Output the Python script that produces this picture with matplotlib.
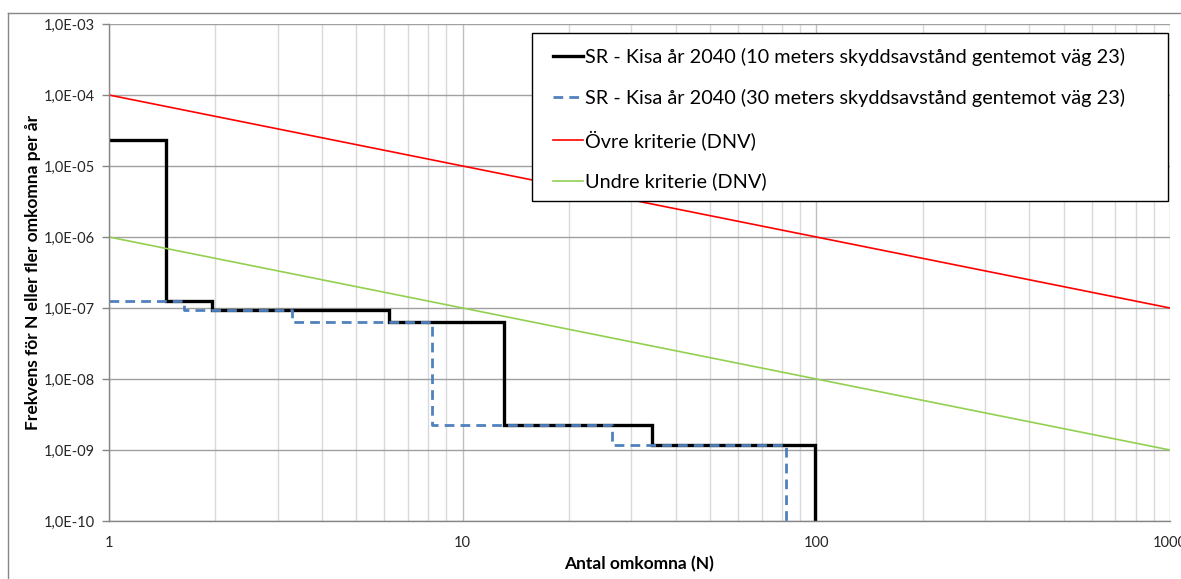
import matplotlib
matplotlib.use("Agg")
import matplotlib.pyplot as plt
from matplotlib.ticker import FixedLocator, NullFormatter, LogLocator
from matplotlib.lines import Line2D
from matplotlib.patches import Rectangle

plt.rcParams['font.family'] = ['Lato', 'DejaVu Sans']

# Data
black_N = [1, 1.45, 1.95, 6.2, 13.1, 34.4, 99]
black_F = [2.3e-5, 1.25e-7, 9.4e-8, 6.3e-8, 2.25e-9, 1.18e-9, 1e-11]
blue_N = [1, 1.63, 3.29, 8.2, 26.4, 82]
blue_F = [1.25e-7, 9.4e-8, 6.3e-8, 2.25e-9, 1.18e-9, 1e-11]
crit_N = [1, 1000]
upper_F = [1e-4, 1e-7]
lower_F = [1e-6, 1e-9]

labels = ["SR - Kisa år 2040 (10 meters skyddsavstånd gentemot väg 23)",
          "SR - Kisa år 2040 (30 meters skyddsavstånd gentemot väg 23)",
          "Övre kriterie (DNV)",
          "Undre kriterie (DNV)"]
ytick_vals = [1e-10, 1e-9, 1e-8, 1e-7, 1e-6, 1e-5, 1e-4, 1e-3]
ytick_labels = ["1,0E-10", "1,0E-09", "1,0E-08", "1,0E-07", "1,0E-06", "1,0E-05", "1,0E-04", "1,0E-03"]
xtick_vals = [1, 10, 100, 1000]
xtick_labels = ["1", "10", "100", "1000"]

W, H = 1181, 579
fig = plt.figure(figsize=(W / 100, H / 100), dpi=100)
ax = fig.add_axes([109 / W, 1 - 521 / H, (1170 - 109) / W, (521 - 24) / H])

ax.set_xscale('log')
ax.set_yscale('log')
ax.set_xlim(1, 1000)
ax.set_ylim(1e-10, 1e-3)

# grid
ax.xaxis.set_minor_locator(LogLocator(base=10, subs=range(2, 10)))
ax.xaxis.set_minor_formatter(NullFormatter())
ax.yaxis.set_minor_locator(FixedLocator([]))
ax.grid(True, which='minor', axis='x', color='#d9d9d9', linewidth=1.0)
ax.grid(True, which='major', axis='x', color='#c0c0c0', linewidth=1.0)
ax.grid(True, which='major', axis='y', color='#a0a0a0', linewidth=1.0)
ax.set_axisbelow(True)

l1, = ax.plot(black_N, black_F, drawstyle='steps-post', color='black', lw=2.4, solid_joinstyle='miter')
l2, = ax.plot(blue_N, blue_F, drawstyle='steps-post', color='#4f81bd', lw=2.0,
              dashes=(3.5, 2.2))
l3, = ax.plot(crit_N, upper_F, color='#ff0000', lw=1.2)
l4, = ax.plot(crit_N, lower_F, color='#92d050', lw=1.2)

ax.set_yticks(ytick_vals)
ax.set_yticklabels(ytick_labels)
ax.set_xticks(xtick_vals)
ax.set_xticklabels(xtick_labels)
ax.tick_params(axis='y', which='major', length=5, color='#868686', width=1,
               labelsize=10.5, labelcolor='#262626', pad=5)
ax.tick_params(axis='x', which='both', length=0, labelsize=10.5, labelcolor='#262626', pad=11)

for s in ['top', 'right']:
    ax.spines[s].set_visible(False)
for s in ['left', 'bottom']:
    ax.spines[s].set_color('#868686')
    ax.spines[s].set_linewidth(1)

ax.set_xlabel("Antal omkomna (N)", fontsize=12.5, fontweight='bold', labelpad=4)
ax.set_ylabel("Frekvens för N eller fler omkomna per år", fontsize=12.5, fontweight='bold', labelpad=2)

# legend box
box = Rectangle((532 / W, 1 - 201 / H), (1168 - 532) / W, (201 - 33) / H,
                transform=fig.transFigure, facecolor='white', edgecolor='black',
                linewidth=1.0, zorder=4)
ax.add_patch(box)
box.set_clip_on(False)

leg = ax.legend([l1, l2, l3, l4], labels, loc='upper left',
                bbox_to_anchor=(553 / W, 1 - 48 / H),
                bbox_transform=fig.transFigure,
                fontsize=14.3, frameon=False, handlelength=1.5, handletextpad=0.12,
                labelspacing=1.15, borderpad=0, borderaxespad=0)
leg.set_zorder(5)

# outer chart border
fig.add_artist(Line2D([8 / W, 8 / W], [0, 1 - 13 / H], color='#868686', lw=1, transform=fig.transFigure))
fig.add_artist(Line2D([8 / W, 1], [1 - 13 / H, 1 - 13 / H], color='#868686', lw=1, transform=fig.transFigure))

fig.savefig("out.png", dpi=100)
